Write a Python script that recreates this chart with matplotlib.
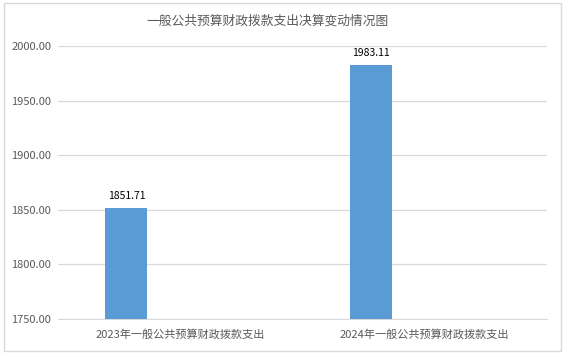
import matplotlib
matplotlib.use("Agg")
import matplotlib.pyplot as plt
from matplotlib.patches import Rectangle
import numpy as np

plt.rcParams['font.family'] = ['Noto Sans CJK SC', 'DejaVu Sans']

# data
categories = ["2023年一般公共预算财政拨款支出", "2024年一般公共预算财政拨款支出"]
values = [1851.71, 1983.11]
title = "一般公共预算财政拨款支出决算变动情况图"
y_ticks = [1750, 1800, 1850, 1900, 1950, 2000]

fig = plt.figure(figsize=(5.65, 3.55), dpi=100)
ax = fig.add_axes([0.1027, 0.1014, 0.8653, 0.7686])

x = np.arange(len(categories))
offset = -0.22
width = 0.172
bars = ax.bar(x + offset, values, width=width, color='#5B9BD5', zorder=3)

for b, v in zip(bars, values):
    ax.text(b.get_x() + b.get_width() / 2, v + 6, f"{v:.2f}",
            ha='center', va='bottom', fontsize=7.5, color='#000000')

ax.set_xlim(-0.5, 1.5)
ax.set_ylim(1750, 2000)
ax.set_yticks(y_ticks)
ax.set_yticklabels([f"{t:.2f}" for t in y_ticks])
ax.set_xticks(x)
ax.set_xticklabels(categories)
ax.tick_params(axis='y', length=0, labelsize=8, colors='#595959', pad=5)
ax.tick_params(axis='x', length=0, labelsize=8, colors='#595959', pad=7)
ax.grid(axis='y', color='#D9D9D9', linewidth=0.9, zorder=0)
for s in ['top', 'right', 'left']:
    ax.spines[s].set_visible(False)
ax.spines['bottom'].set_color('#D9D9D9')

# title sits a bit left of centre in the original
fig.text(0.473, 0.94, title, ha='center', va='center', fontsize=9.2, color='#595959')

fig.patches.append(Rectangle((0.007, 0.011), 0.986, 0.98, transform=fig.transFigure,
                             fill=False, edgecolor='#D9D9D9', linewidth=1))

fig.savefig("out.png", dpi=100)
